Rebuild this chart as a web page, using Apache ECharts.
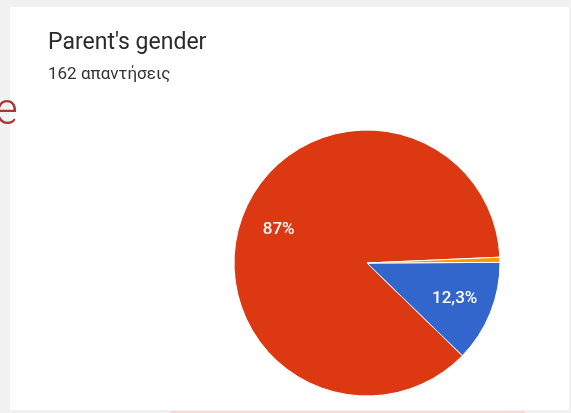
<!DOCTYPE html>
<html>
<head>
<meta charset="utf-8">
<script src="https://cdn.jsdelivr.net/npm/echarts@6/dist/echarts.min.js"></script>
<style>
  html, body { margin: 0; padding: 0; background: #f1f1f1; }
  #chart { width: 571px; height: 413px; }
</style>
</head>
<body>
<div id="chart"></div>
<script>
  // answers to "Parent's gender" (162 responses)
  var categories = ['Γυναίκα', 'Άνδρας', 'Άλλο'];
  var counts = [141, 20, 1];
  var labels = ['87%', '12,3%', ''];
  var colors = ['#dc3912', '#3366cc', '#ff9900'];

  var myChart = echarts.init(document.getElementById('chart'));

  var pieData = categories.map(function (name, i) {
    return { name: name, value: counts[i], itemStyle: { color: colors[i] } };
  });

  var option = {
    backgroundColor: '#f1f1f1',
    animation: false,
    graphic: [
      // white card
      { type: 'rect', shape: { x: 10, y: 7, width: 559, height: 403 }, style: { fill: '#ffffff' }, z: -10 },
      // faint pink bits below the card
      { type: 'rect', shape: { x: 170, y: 411, width: 355, height: 2 }, style: { fill: '#fbd9d6' }, z: -10 },
      // cut-off letter on the left
      { type: 'text', left: -5, top: 91, style: { text: 'e', fill: '#a63a33', font: '300 44px Roboto' }, z: 10 }
    ],
    title: {
      text: "Parent's gender",
      subtext: '162 απαντήσεις',
      left: 43,
      top: 27,
      itemGap: 11,
      textStyle: { fontFamily: 'Roboto', fontSize: 23, fontWeight: 'normal', color: '#2b2b2b' },
      subtextStyle: { fontFamily: 'Roboto', fontSize: 17, color: '#333333' }
    },
    series: [
      {
        type: 'pie',
        center: [367, 263],
        radius: 133,
        clockwise: false,
        startAngle: 2.5,
        silent: true,
        label: { show: false },
        labelLine: { show: false },
        itemStyle: { borderColor: '#ffffff', borderWidth: 1 },
        data: pieData
      },
      {
        // transparent ring that only carries the percentage labels
        type: 'pie',
        center: [367, 263],
        radius: [50, 133],
        clockwise: false,
        startAngle: 2.5,
        silent: true,
        itemStyle: { color: 'rgba(0,0,0,0)' },
        label: {
          show: true,
          position: 'inside',
          color: '#ffffff',
          fontFamily: 'Roboto',
          fontSize: 17,
          fontWeight: 500,
          formatter: function (p) { return labels[p.dataIndex]; }
        },
        labelLine: { show: false },
        data: categories.map(function (name, i) { return { name: name, value: counts[i] }; })
      }
    ]
  };

  myChart.setOption(option);
</script>
</body>
</html>
